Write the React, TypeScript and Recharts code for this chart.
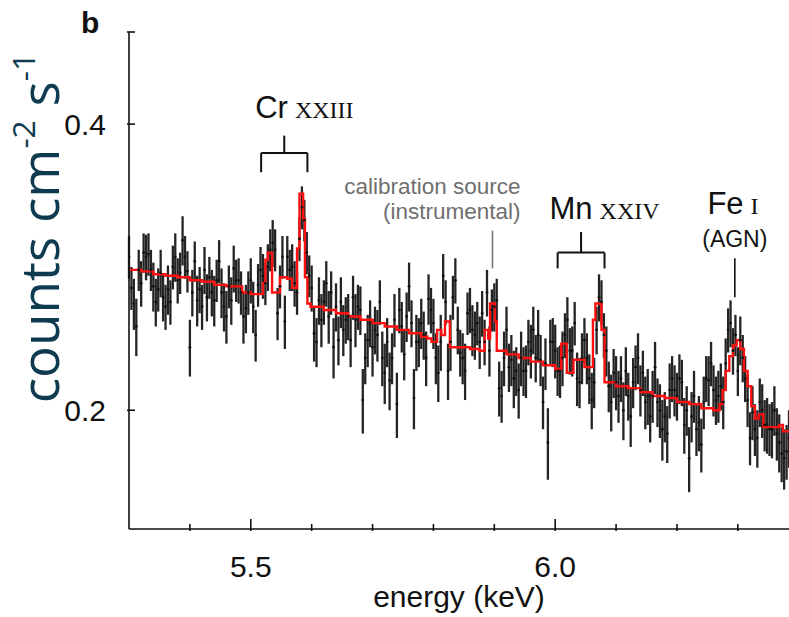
import React from 'react'
import { ComposedChart, Line, Scatter, ErrorBar, XAxis, YAxis, ReferenceLine, ReferenceDot } from 'recharts'

// spectrum bins (keV), regular grid
const binStart = 5.3
const binWidth = 0.004

const flux = [
  0.290, 0.269, 0.259, 0.245, 0.281, 0.272, 0.293, 0.290, 0.292, 0.281,
  0.270, 0.260, 0.268, 0.279, 0.263, 0.257, 0.268, 0.260, 0.283, 0.290,
  0.274, 0.279, 0.302, 0.290, 0.280, 0.233, 0.266, 0.287, 0.261, 0.268,
  0.257, 0.281, 0.263, 0.276, 0.266, 0.261, 0.274, 0.287, 0.266, 0.257,
  0.251, 0.270, 0.261, 0.282, 0.274,
  0.274, 0.266, 0.251, 0.256, 0.266, 0.274, 0.257, 0.240, 0.271, 0.281,
  0.277, 0.272, 0.283, 0.295, 0.300, 0.295, 0.253, 0.270, 0.290, 0.248,
  0.290, 0.281, 0.283, 0.272, 0.266, 0.303, 0.327, 0.317, 0.293, 0.277,
  0.269, 0.241, 0.236, 0.261, 0.249, 0.260, 0.272, 0.251, 0.266, 0.233,
  0.257, 0.237, 0.260, 0.243, 0.249,
  0.251, 0.237, 0.263, 0.249, 0.257, 0.255, 0.205, 0.227, 0.237, 0.247,
  0.233, 0.243, 0.240, 0.260, 0.227, 0.219, 0.236, 0.215, 0.227, 0.249,
  0.203, 0.255, 0.245, 0.229, 0.251, 0.270, 0.247, 0.206, 0.236, 0.236,
  0.247, 0.240, 0.227, 0.262, 0.255, 0.247, 0.227, 0.219, 0.236, 0.277,
  0.260, 0.220, 0.236, 0.263, 0.274,
  0.243, 0.230, 0.227, 0.220, 0.253, 0.255, 0.243, 0.240, 0.247, 0.236,
  0.253, 0.236, 0.266, 0.231, 0.255, 0.257, 0.261, 0.211, 0.207, 0.227,
  0.243, 0.222, 0.226, 0.216, 0.220, 0.210, 0.227, 0.220, 0.220, 0.236,
  0.231, 0.243, 0.227, 0.240, 0.226, 0.204, 0.224, 0.185, 0.236, 0.236,
  0.231, 0.220, 0.220, 0.227, 0.240, 0.249,
  0.231, 0.231, 0.247, 0.216, 0.214, 0.227, 0.237, 0.227, 0.216, 0.205,
  0.214, 0.243, 0.263, 0.260, 0.240, 0.231, 0.212, 0.204, 0.219, 0.214,
  0.207, 0.216, 0.200, 0.220, 0.207, 0.197, 0.214, 0.222, 0.227, 0.210,
  0.219, 0.204, 0.207, 0.197, 0.207, 0.222, 0.204, 0.200, 0.191, 0.197,
  0.189, 0.210, 0.216, 0.210, 0.207,
  0.216, 0.214, 0.193, 0.200, 0.178, 0.197, 0.207, 0.191, 0.194, 0.184,
  0.204, 0.216, 0.215, 0.224, 0.210, 0.205, 0.207, 0.212, 0.204, 0.224,
  0.243, 0.247, 0.231, 0.240, 0.220, 0.237, 0.227, 0.216, 0.205, 0.187,
  0.199, 0.191, 0.187, 0.204, 0.200, 0.193, 0.193, 0.191, 0.191, 0.200,
  0.189, 0.185, 0.180, 0.178, 0.181, 0.187,
]

// 1-sigma errors per bin
const fluxErr = [
  0.015, 0.014, 0.016, 0.017, 0.014, 0.015, 0.014, 0.016, 0.015, 0.014,
  0.016, 0.015, 0.014, 0.016, 0.015, 0.014, 0.016, 0.014, 0.015, 0.017,
  0.015, 0.014, 0.018, 0.015, 0.014, 0.016, 0.015, 0.014, 0.016, 0.015,
  0.014, 0.016, 0.015, 0.014, 0.015, 0.016, 0.014, 0.015, 0.016, 0.015,
  0.016, 0.014, 0.015, 0.016, 0.014,
  0.015, 0.014, 0.016, 0.015, 0.014, 0.015, 0.016, 0.015, 0.014, 0.016,
  0.015, 0.014, 0.016, 0.015, 0.017, 0.015, 0.016, 0.014, 0.015, 0.016,
  0.015, 0.014, 0.016, 0.015, 0.014, 0.016, 0.017, 0.016, 0.015, 0.014,
  0.015, 0.016, 0.014, 0.015, 0.016, 0.014, 0.015, 0.016, 0.014, 0.017,
  0.015, 0.014, 0.016, 0.015, 0.014,
  0.014, 0.015, 0.014, 0.016, 0.014, 0.015, 0.016, 0.014, 0.015, 0.014,
  0.016, 0.014, 0.015, 0.014, 0.015, 0.016, 0.014, 0.015, 0.014, 0.016,
  0.016, 0.014, 0.015, 0.014, 0.015, 0.016, 0.014, 0.015, 0.016, 0.014,
  0.015, 0.014, 0.015, 0.016, 0.014, 0.015, 0.014, 0.015, 0.016, 0.015,
  0.014, 0.015, 0.016, 0.014, 0.015,
  0.014, 0.013, 0.014, 0.015, 0.013, 0.014, 0.015, 0.014, 0.013, 0.015,
  0.014, 0.013, 0.015, 0.014, 0.013, 0.015, 0.014, 0.014, 0.013, 0.015,
  0.014, 0.013, 0.014, 0.015, 0.013, 0.014, 0.015, 0.013, 0.014, 0.013,
  0.015, 0.014, 0.013, 0.015, 0.014, 0.013, 0.014, 0.016, 0.013, 0.014,
  0.015, 0.013, 0.014, 0.015, 0.013, 0.014,
  0.013, 0.014, 0.013, 0.014, 0.013, 0.014, 0.013, 0.014, 0.013, 0.014,
  0.013, 0.014, 0.015, 0.014, 0.013, 0.014, 0.013, 0.014, 0.013, 0.014,
  0.013, 0.012, 0.014, 0.013, 0.012, 0.014, 0.013, 0.012, 0.014, 0.013,
  0.012, 0.013, 0.014, 0.012, 0.013, 0.014, 0.012, 0.013, 0.014, 0.012,
  0.013, 0.014, 0.012, 0.013, 0.012,
  0.013, 0.012, 0.013, 0.012, 0.014, 0.012, 0.013, 0.012, 0.013, 0.012,
  0.013, 0.012, 0.013, 0.012, 0.013, 0.012, 0.013, 0.012, 0.013, 0.014,
  0.013, 0.014, 0.013, 0.012, 0.013, 0.014, 0.013, 0.012, 0.013, 0.012,
  0.013, 0.012, 0.013, 0.012, 0.013, 0.012, 0.013, 0.012, 0.013, 0.012,
  0.012, 0.013, 0.012, 0.013, 0.012, 0.013,
]

// best-fit model (step histogram): energy breakpoints and flux
const modelEnergy = [
  5.300, 5.320, 5.340, 5.360, 5.380, 5.400, 5.420, 5.440, 5.460, 5.474,
  5.486, 5.500, 5.520, 5.524, 5.528, 5.535, 5.548, 5.560, 5.568, 5.576,
  5.580, 5.586, 5.589, 5.593, 5.598, 5.620, 5.640, 5.660, 5.680, 5.700,
  5.720, 5.740, 5.760, 5.780, 5.790, 5.797, 5.806, 5.813, 5.819, 5.827,
  5.840, 5.860, 5.876, 5.884, 5.890, 5.893, 5.901, 5.904, 5.920, 5.940,
  5.960, 5.980, 6.000, 6.010, 6.019, 6.030, 6.048, 6.062, 6.066, 6.076,
  6.081, 6.100, 6.120, 6.140, 6.160, 6.180, 6.200, 6.220, 6.240, 6.260,
  6.270, 6.275, 6.280, 6.286, 6.292, 6.298, 6.304, 6.310, 6.316, 6.322,
  6.328, 6.334, 6.342, 6.360, 6.368, 6.374, 6.384,
]
const modelFlux = [
  0.281, 0.280, 0.278, 0.277, 0.276, 0.274, 0.273, 0.271, 0.270, 0.270,
  0.266, 0.265, 0.272, 0.288, 0.293, 0.266, 0.276, 0.275, 0.269, 0.296,
  0.338, 0.318, 0.276, 0.259, 0.257, 0.255, 0.253, 0.251, 0.249, 0.247,
  0.245, 0.243, 0.241, 0.239, 0.238, 0.236, 0.243, 0.240, 0.248, 0.233,
  0.233, 0.232, 0.231, 0.243, 0.238, 0.259, 0.248, 0.231, 0.229, 0.227,
  0.225, 0.223, 0.221, 0.235, 0.219, 0.226, 0.222, 0.249, 0.259, 0.243,
  0.214, 0.212, 0.211, 0.209, 0.207, 0.206, 0.204, 0.203, 0.201, 0.200,
  0.203, 0.210, 0.220, 0.228, 0.234, 0.237, 0.232, 0.220, 0.212, 0.202,
  0.196, 0.198, 0.192, 0.192, 0.193, 0.190, 0.190,
]

const xTicks = [5.3, 5.4, 5.5, 5.6, 5.7, 5.8, 5.9, 6.0, 6.1, 6.2, 6.3]
const xMajor = [5.5, 6.0]
const yTicks = [0.2, 0.4, 0.5]
const yLabelled = [0.2, 0.4]

const points = flux.map((f, i) => ({ e: binStart + i * binWidth, f, err: fluxErr[i] }))
const model = modelEnergy.map((e, i) => ({ e, f: modelFlux[i] }))

const SANS = '"Liberation Sans", Arial, Helvetica, sans-serif'
const SERIF = '"Liberation Serif", "Times New Roman", serif'
const INK = '#111'

function XTick({ x, y, payload }: any) {
  const major = xMajor.includes(payload.value)
  if (payload.value === xTicks[0]) return null
  return (
    <g>
      <line x1={x} x2={x} y1={y} y2={y - (major ? 12 : 7)} stroke={INK} strokeWidth={1.6} />
      {major && (
        <text x={x} y={y + 46} textAnchor="middle" fontSize={30} fontFamily={SANS} fill={INK}>
          {payload.value.toFixed(1)}
        </text>
      )}
    </g>
  )
}

function YTick({ x, y, payload }: any) {
  return (
    <g>
      <line x1={x} x2={x + 8} y1={y} y2={y} stroke={INK} strokeWidth={1.6} />
      {yLabelled.includes(payload.value) && (
        <text x={x - 21} y={y + 10.5} textAnchor="end" fontSize={30} fontFamily={SANS} fill={INK}>
          {payload.value.toFixed(1)}
        </text>
      )}
    </g>
  )
}

const Dot = ({ cx, cy }: any) => <circle cx={cx} cy={cy} r={1.4} fill={INK} />

// ion label: element in sans, ionisation stage in small serif caps
const ionLabel = (el: string, stage: string) => (p: any) => (
  <text x={p.viewBox.x} y={p.viewBox.y} textAnchor="middle" fill={INK}>
    <tspan fontFamily={SANS} fontSize={31}>{el}</tspan>
    <tspan fontFamily={SERIF} fontSize={24} dx={7}>{stage}</tspan>
  </text>
)

const plainLabel = (txt: string, size: number, color: string, anchor: string) => (p: any) => (
  <text x={p.viewBox.x} y={p.viewBox.y} textAnchor={anchor} fontFamily={SANS} fontSize={size} fill={color}>
    {txt}
  </text>
)

// bracket = left foot, bar, right foot, stem
function bracket(x1: number, x2: number, yFoot: number, yBar: number, yStem: number, key: string) {
  const xm = (x1 + x2) / 2
  const segs = [
    [[x1, yFoot], [x1, yBar]],
    [[x1, yBar], [x2, yBar]],
    [[x2, yBar], [x2, yFoot]],
    [[xm, yBar], [xm, yStem]],
  ]
  return segs.map((s, i) => (
    <ReferenceLine
      key={key + i}
      segment={[{ x: s[0][0], y: s[0][1] }, { x: s[1][0], y: s[1][1] }]}
      stroke={INK}
      strokeWidth={2}
      ifOverflow="visible"
    />
  ))
}

const sup = { fontSize: '0.6em', position: 'relative' as const, top: '-0.75em' }

export default function App() {
  return (
    <div style={{ position: 'fixed', left: 0, top: 0, width: 789, height: 617, overflow: 'hidden', background: '#fff' }}>
      <ComposedChart width={789} height={617} margin={{ top: 32, right: 0, bottom: 0, left: 0 }}>
        <XAxis
          type="number"
          dataKey="e"
          domain={[5.3, 6.384]}
          ticks={xTicks}
          interval={0}
          allowDataOverflow
          height={88}
          tickSize={0}
          tickLine={false}
          tick={<XTick />}
          axisLine={{ stroke: INK, strokeWidth: 1.6 }}
          label={{ value: 'energy (keV)', position: 'insideBottom', offset: 10, fill: INK, fontSize: 30, fontFamily: SANS }}
        />
        <YAxis
          type="number"
          scale="log"
          domain={[0.15, 0.5]}
          ticks={yTicks}
          interval={0}
          allowDataOverflow
          width={129}
          tickSize={0}
          tickLine={false}
          tick={<YTick />}
          axisLine={{ stroke: INK, strokeWidth: 1.6 }}
        />
        <Scatter data={points} dataKey="f" shape={<Dot />} isAnimationActive={false}>
          <ErrorBar dataKey="err" direction="y" width={0} stroke="#242424" strokeWidth={2.3} isAnimationActive={false} />
        </Scatter>
        <Line
          data={model}
          dataKey="f"
          type="stepAfter"
          stroke="#ff1010"
          strokeWidth={2.4}
          dot={false}
          activeDot={false}
          isAnimationActive={false}
        />

        {bracket(5.517, 5.593, 0.356, 0.373, 0.389, 'cr')}
        <ReferenceDot x={5.588} y={0.406} r={0} ifOverflow="visible" label={ionLabel('Cr', 'XXIII')} />

        <ReferenceLine segment={[{ x: 5.897, y: 0.282 }, { x: 5.897, y: 0.309 }]} stroke="#777" strokeWidth={1.6} ifOverflow="visible" />
        <ReferenceDot x={5.943} y={0.338} r={0} ifOverflow="visible" label={plainLabel('calibration source', 22.5, '#6f6f6f', 'end')} />
        <ReferenceDot x={5.943} y={0.318} r={0} ifOverflow="visible" label={plainLabel('(instrumental)', 22.5, '#6f6f6f', 'end')} />

        {bracket(6.004, 6.081, 0.282, 0.293, 0.308, 'mn')}
        <ReferenceDot x={6.081} y={0.318} r={0} ifOverflow="visible" label={ionLabel('Mn', 'XXIV')} />

        <ReferenceLine segment={[{ x: 6.295, y: 0.263 }, { x: 6.295, y: 0.289 }]} stroke={INK} strokeWidth={1.6} ifOverflow="visible" />
        <ReferenceDot x={6.292} y={0.322} r={0} ifOverflow="visible" label={ionLabel('Fe', 'I')} />
        <ReferenceDot x={6.295} y={0.297} r={0} ifOverflow="visible" label={plainLabel('(AGN)', 23, INK, 'middle')} />
      </ComposedChart>

      <div style={{ position: 'absolute', left: 81, top: 8, fontFamily: SANS, fontWeight: 700, fontSize: 30, lineHeight: 1, color: INK }}>b</div>
      <div
        style={{
          position: 'absolute',
          left: 38,
          top: 228,
          transform: 'translate(-50%, -50%) rotate(-90deg)',
          whiteSpace: 'nowrap',
          fontFamily: '"Open Sans", sans-serif',
          fontSize: 53,
          lineHeight: 1,
          color: '#0f3b50',
        }}
      >
        counts cm<span style={sup}>-2</span> s<span style={sup}>-1</span>
      </div>
    </div>
  )
}
